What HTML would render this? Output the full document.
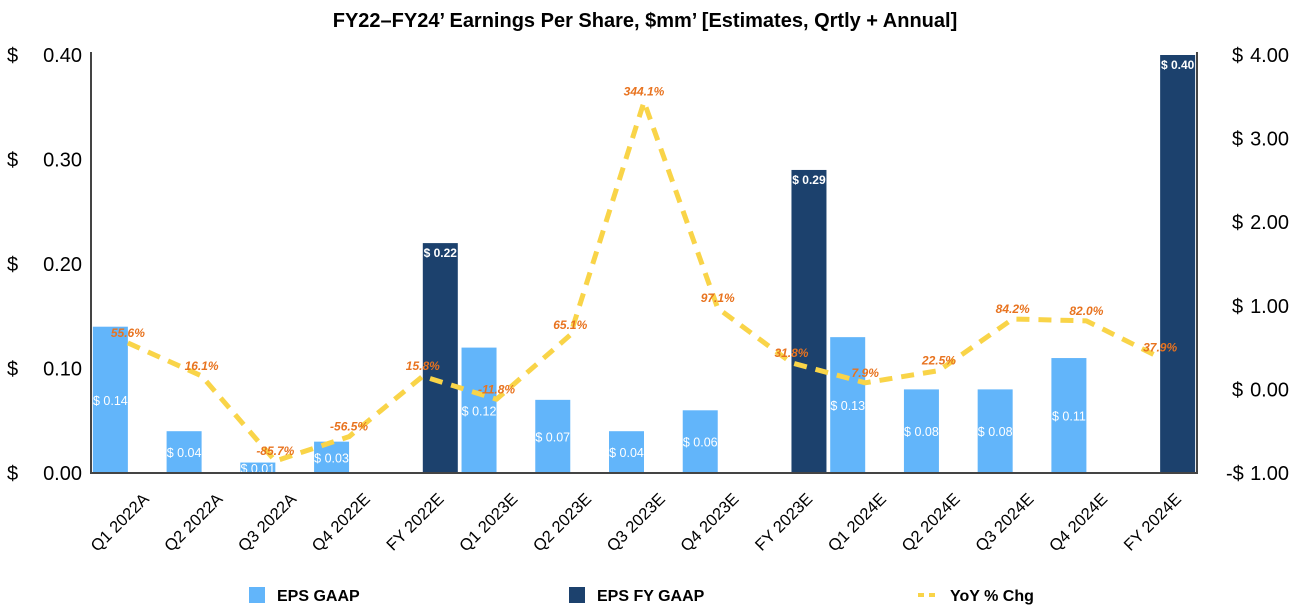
<!DOCTYPE html>
<html><head><meta charset="utf-8"><style>
body{margin:0;background:#fff;font-family:"Liberation Sans",Arial,sans-serif}
svg text{font-family:"Liberation Sans",Arial,sans-serif}
</style></head><body>
<svg id="c" width="1291" height="607" xmlns="http://www.w3.org/2000/svg">
<text x="645" y="27" text-anchor="middle" font-size="20" font-weight="bold">FY22–FY24’ Earnings Per Share, $mm’ [Estimates, Qrtly + Annual]</text>
<g id="g"></g>
</svg>
<script>
const categories=["Q1 2022A","Q2 2022A","Q3 2022A","Q4 2022E","FY 2022E","Q1 2023E","Q2 2023E","Q3 2023E","Q4 2023E","FY 2023E","Q1 2024E","Q2 2024E","Q3 2024E","Q4 2024E","FY 2024E"];
const epsGaap=[0.14,0.04,0.01,0.03,null,0.12,0.07,0.04,0.06,null,0.13,0.08,0.08,0.11,null];
const epsFy=[null,null,null,null,0.22,null,null,null,null,0.29,null,null,null,null,0.40];
const yoy=[0.556,0.161,-0.857,-0.565,0.158,-0.118,0.651,3.441,0.971,0.318,0.079,0.225,0.842,0.820,0.379];
const yoyLabels=["55.6%","16.1%","-85.7%","-56.5%","15.8%","-11.8%","65.1%","344.1%","97.1%","31.8%","7.9%","22.5%","84.2%","82.0%","37.9%"];
const leftTicks=[0,0.1,0.2,0.3,0.4];
const rightTicks=[-1,0,1,2,3,4];
const L=91,R=1197,T=55,B=473;
const cw=(R-L)/categories.length, bw=35;
const yL=v=>B-(v/0.4)*(B-T);
const yR=v=>B-((v+1)/5)*(B-T);
const xC=i=>L+cw*(i+0.5);
const g=document.getElementById('g');
const NS="http://www.w3.org/2000/svg";
function el(t,a,txt){const e=document.createElementNS(NS,t);for(const k in a)e.setAttribute(k,a[k]);if(txt!=null)e.textContent=txt;g.appendChild(e);return e;}
leftTicks.forEach(v=>{
 const d=el('text',{x:7,y:yL(v)+7,'font-size':20},'$');
 
 
 const e=el('text',{x:82,y:yL(v)+7,'text-anchor':'end','font-size':20},v.toFixed(2));
 
 });
rightTicks.forEach(v=>{
 const d=el('text',{x:v<0?1226:1232,y:yR(v)+7,'font-size':20},v<0?'-$':'$');
 
 
 const e=el('text',{x:1289,y:yR(v)+7,'text-anchor':'end','font-size':20},Math.abs(v).toFixed(2));
 
 });
categories.forEach((c,i)=>{
 if(epsGaap[i]!=null){const x=xC(i)-bw,y=yL(epsGaap[i]);
  const r=el('rect',{x:x,y:y,width:bw,height:B-y,fill:'#62b5fa'});
  
  
  const t=el('text',{x:x+bw/2,y:(y+B)/2+5,'text-anchor':'middle','font-size':12.5,fill:'#fff'},'$ '+epsGaap[i].toFixed(2));
  
  }
 if(epsFy[i]!=null){const x=xC(i),y=yL(epsFy[i]);
  const r=el('rect',{x:x,y:y,width:bw,height:B-y,fill:'#1c416d'});
  
  
  const t=el('text',{x:x+bw/2,y:y+14,'text-anchor':'middle','font-size':12,'font-weight':'bold',fill:'#fff'},'$ '+epsFy[i].toFixed(2));
  
  }
 const ax0=xC(i)+22, ay0=500;
 const xl=el('text',{x:ax0,y:ay0,'text-anchor':'end','font-size':16.5,transform:`rotate(-45 ${ax0} ${ay0})`},c);
 
 
});
const ax=el('path',{d:`M${L} ${T-3}V${B}H${R}V${T-3}`,stroke:'#444',fill:'none','stroke-width':2});


const pts=yoy.map((v,i)=>xC(i)+','+yR(v)).join(' ');
const ln=el('polyline',{points:pts,fill:'none',stroke:'#f9d448','stroke-width':5,'stroke-dasharray':'13 9','stroke-linejoin':'round'});


yoy.forEach((v,i)=>{const t=el('text',{x:xC(i),y:yR(v)-6,'text-anchor':'middle','font-size':12,'font-weight':'bold','font-style':'italic',fill:'#e8731f'},yoyLabels[i]);

});
let e;
e=el('rect',{x:249,y:587,width:16,height:16,fill:'#62b5fa'});


e=el('text',{x:277,y:601,'font-size':16,'font-weight':'bold'},'EPS GAAP');


e=el('rect',{x:569,y:587,width:16,height:16,fill:'#1c416d'});


e=el('text',{x:597,y:601,'font-size':16,'font-weight':'bold'},'EPS FY GAAP');


e=el('line',{x1:918,y1:595,x2:938,y2:595,stroke:'#f9d448','stroke-width':4,'stroke-dasharray':'6 5'});


e=el('text',{x:950,y:601,'font-size':16,'font-weight':'bold'},'YoY % Chg');


</script>
</body></html>
